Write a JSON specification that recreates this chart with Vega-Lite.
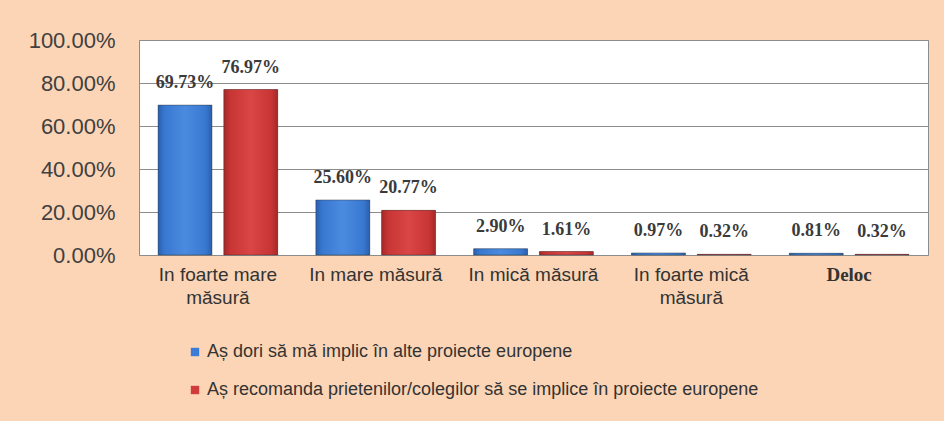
{
  "$schema": "https://vega.github.io/schema/vega-lite/v6.json",
  "width": 789,
  "height": 215,
  "autosize": {"type": "none"},
  "padding": {"left": 139, "top": 40, "right": 16, "bottom": 166},
  "background": "#FBD5B6",
  "config": {
    "view": {"fill": "#FFFFFF", "stroke": "#8C8C8C", "strokeWidth": 1}
  },
  "data": {
    "values": [
      {"cat": "In foarte mare măsură", "serie": "Aș dori să mă implic în alte proiecte europene", "val": 0.6973},
      {"cat": "In foarte mare măsură", "serie": "Aș recomanda prietenilor/colegilor  să se implice în proiecte europene", "val": 0.7697},
      {"cat": "In mare măsură", "serie": "Aș dori să mă implic în alte proiecte europene", "val": 0.256},
      {"cat": "In mare măsură", "serie": "Aș recomanda prietenilor/colegilor  să se implice în proiecte europene", "val": 0.2077},
      {"cat": "In mică măsură", "serie": "Aș dori să mă implic în alte proiecte europene", "val": 0.029},
      {"cat": "In mică măsură", "serie": "Aș recomanda prietenilor/colegilor  să se implice în proiecte europene", "val": 0.0161},
      {"cat": "In foarte mică măsură", "serie": "Aș dori să mă implic în alte proiecte europene", "val": 0.0097},
      {"cat": "In foarte mică măsură", "serie": "Aș recomanda prietenilor/colegilor  să se implice în proiecte europene", "val": 0.0032},
      {"cat": "Deloc", "serie": "Aș dori să mă implic în alte proiecte europene", "val": 0.0081},
      {"cat": "Deloc", "serie": "Aș recomanda prietenilor/colegilor  să se implice în proiecte europene", "val": 0.0032}
    ]
  },
  "encoding": {
    "x": {
      "field": "cat",
      "type": "nominal",
      "sort": ["In foarte mare măsură", "In mare măsură", "In mică măsură", "In foarte mică măsură", "Deloc"],
      "scale": {"paddingInner": 0, "paddingOuter": 0},
      "axis": {
        "title": null,
        "labelAngle": 0,
        "ticks": false,
        "domain": false,
        "labelPadding": 10,
        "labelFontSize": 19,
        "labelFont": {"expr": "datum.value == 'Deloc' ? 'Liberation Serif' : 'Liberation Sans'"},
        "labelFontWeight": {"expr": "datum.value == 'Deloc' ? 'bold' : 'normal'"},
        "labelColor": "#333333",
        "labelLineHeight": 23,
        "labelLimit": 200,
        "labelExpr": "datum.value == 'In foarte mare măsură' ? ['In foarte mare', 'măsură'] : datum.value == 'In foarte mică măsură' ? ['In foarte mică', 'măsură'] : datum.value"
      }
    },
    "xOffset": {
      "field": "serie",
      "type": "nominal",
      "scale": {"paddingInner": 0.18, "paddingOuter": 0.29}
    },
    "y": {
      "field": "val",
      "type": "quantitative",
      "scale": {"domain": [0, 1]},
      "axis": {
        "title": null,
        "values": [0, 0.2, 0.4, 0.6, 0.8, 1],
        "format": ".2%",
        "ticks": false,
        "domain": false,
        "labelPadding": 24,
        "labelFont": "Liberation Sans",
        "labelFontSize": 22,
        "labelColor": "#404040",
        "gridColor": "#8C8C8C",
        "gridWidth": 1
      }
    }
  },
  "layer": [
    {
      "mark": {"type": "bar"},
      "encoding": {
        "color": {
          "field": "serie",
          "type": "nominal",
          "scale": {
            "domain": ["Aș dori să mă implic în alte proiecte europene", "Aș recomanda prietenilor/colegilor  să se implice în proiecte europene"],
            "range": ["#3B7DD6", "#D03B3B"]
          },
          "legend": {
            "title": null,
            "orient": "none",
            "legendX": 47,
            "legendY": 303,
            "direction": "vertical",
            "symbolType": "square",
            "symbolSize": 70,
            "symbolStrokeWidth": 0,
            "labelFont": "Liberation Sans",
            "labelFontSize": 18,
            "labelColor": "#333333",
            "labelLimit": 800,
            "labelOffset": 3,
            "rowPadding": 20
          }
        }
      }
    },
    {
      "mark": {"type": "bar", "stroke": "#333333", "strokeWidth": 0.6, "strokeOpacity": 0.7},
      "encoding": {
        "fill": {
          "condition": {
            "test": "datum.serie == 'Aș dori să mă implic în alte proiecte europene'",
            "value": {"gradient": "linear", "x1": 0, "x2": 1, "y1": 0, "y2": 0, "stops": [{"offset": 0, "color": "#2A5FAE"}, {"offset": 0.12, "color": "#3978D0"}, {"offset": 0.5, "color": "#4A8BE0"}, {"offset": 0.88, "color": "#3978D0"}, {"offset": 1, "color": "#2A5FAE"}]}
          },
          "value": {"gradient": "linear", "x1": 0, "x2": 1, "y1": 0, "y2": 0, "stops": [{"offset": 0, "color": "#A52828"}, {"offset": 0.12, "color": "#C83535"}, {"offset": 0.5, "color": "#DA4545"}, {"offset": 0.88, "color": "#C83535"}, {"offset": 1, "color": "#A52828"}]}
        }
      }
    },
    {
      "mark": {"type": "text", "baseline": "bottom", "dy": -13, "font": "Liberation Serif", "fontWeight": "bold", "fontSize": 18, "color": "#3A3A3A"},
      "encoding": {
        "text": {"field": "val", "type": "quantitative", "format": ".2%"}
      }
    }
  ]
}
